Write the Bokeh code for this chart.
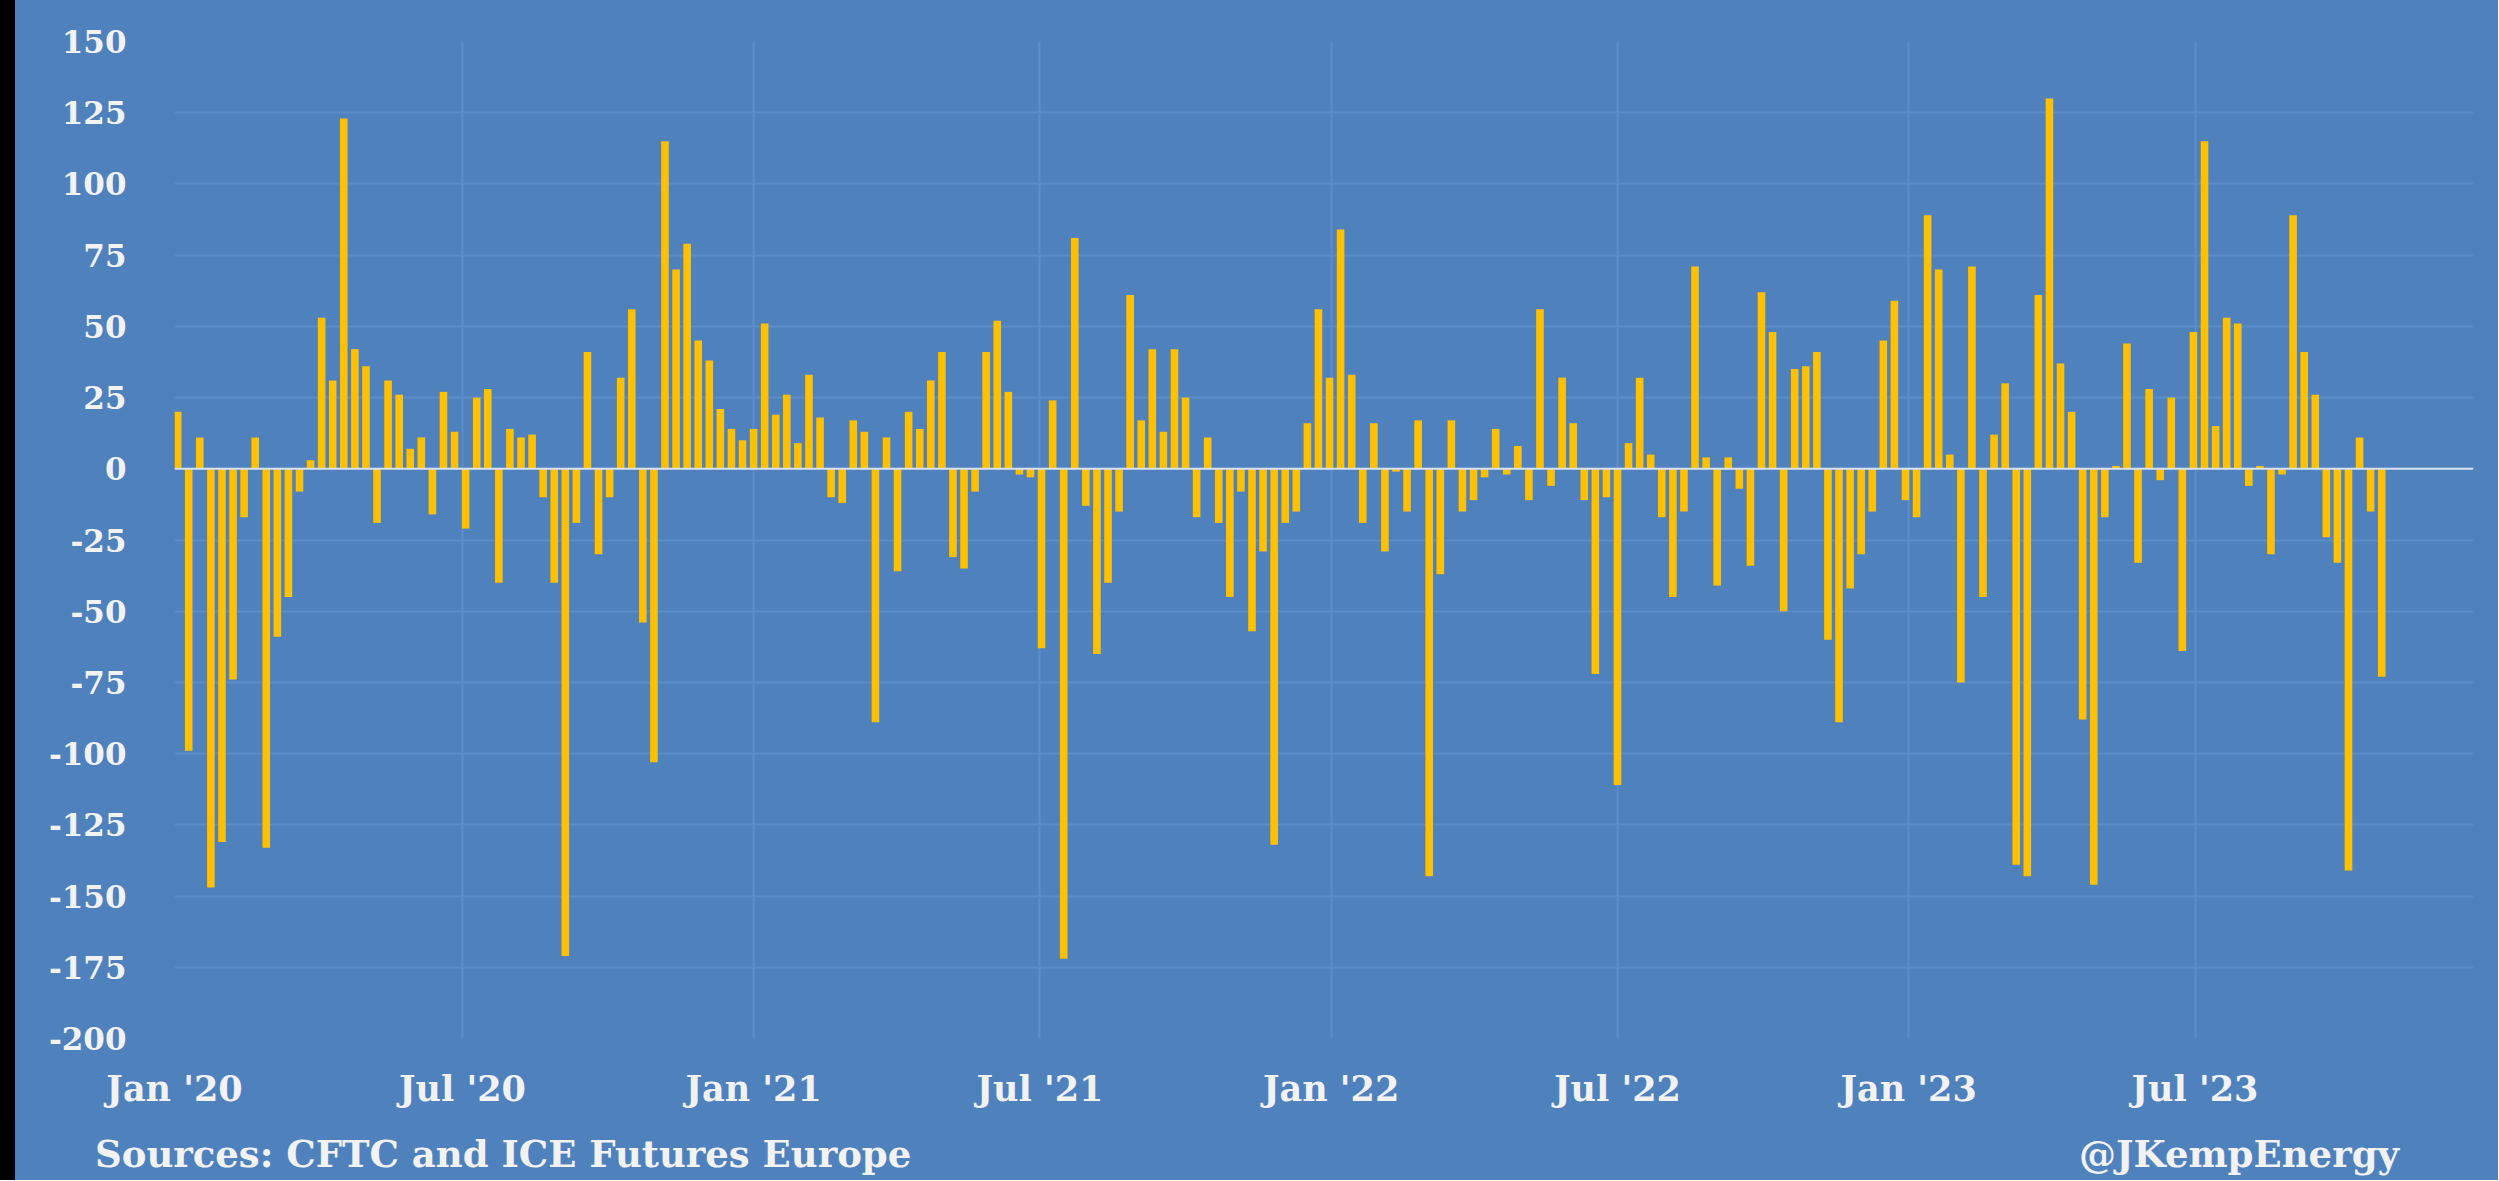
import pandas as pd
from bokeh.plotting import figure
from bokeh.layouts import row, column
from bokeh.models import FixedTicker, Span, Range1d, ColumnDataSource, Div
from bokeh.embed import file_html
from bokeh.resources import INLINE

# Weekly change (reference bars), first report week then every 7 days
START_DATE = "2020-01-03"
VALUES = [
    20, -99, 11, -147, -131, -74, -17, 11, -133, -59,
    -45, -8, 3, 53, 31, 123, 42, 36, -19, 31,
    26, 7, 11, -16, 27, 13, -21, 25, 28, -40,
    14, 11, 12, -10, -40, -171, -19, 41, -30, -10,
    32, 56, -54, -103, 115, 70, 79, 45, 38, 21,
    14, 10, 14, 51, 19, 26, 9, 33, 18, -10,
    -12, 17, 13, -89, 11, -36, 20, 14, 31, 41,
    -31, -35, -8, 41, 52, 27, -2, -3, -63, 24,
    -172, 81, -13, -65, -40, -15, 61, 17, 42, 13,
    42, 25, -17, 11, -19, -45, -8, -57, -29, -132,
    -19, -15, 16, 56, 32, 84, 33, -19, 16, -29,
    -1, -15, 17, -143, -37, 17, -15, -11, -3, 14,
    -2, 8, -11, 56, -6, 32, 16, -11, -72, -10,
    -111, 9, 32, 5, -17, -45, -15, 71, 4, -41,
    4, -7, -34, 62, 48, -50, 35, 36, 41, -60,
    -89, -42, -30, -15, 45, 59, -11, -17, 89, 70,
    5, -75, 71, -45, 12, 30, -139, -143, 61, 130,
    37, 20, -88, -146, -17, 1, 44, -33, 28, -4,
    25, -64, 48, 115, 15, 53, 51, -6, 1, -30,
    -2, 89, 41, 26, -24, -33, -141, 11, -15, -73,
]

TICK_DATES = ["2020-01-01", "2020-07-01", "2021-01-01", "2021-07-01",
              "2022-01-01", "2022-07-01", "2023-01-01", "2023-07-01"]
TICK_LABELS = ["Jan '20", "Jul '20", "Jan '21", "Jul '21",
               "Jan '22", "Jul '22", "Jan '23", "Jul '23"]
Y_TICKS = [-200, -175, -150, -125, -100, -75, -50, -25, 0, 25, 50, 75, 100, 125, 150]
Y_TICK_LABELS = ["-200", "-175", "-150", "-125", "-100", "-75", "-50", "-25",
                 "0", "25", "50", "75", "100", "125", "150"]

SOURCE_TEXT = "Sources: CFTC and ICE Futures Europe"
HANDLE_TEXT = "@JKempEnergy"

BG = "#4F81BD"
BAR = "#FFC000"
TXT = "#F2F2F2"
GRID = "#5C8DC9"
FONT = "DejaVu Serif"

LEFT_STRIP = 15
FIG_W = 2483
MAIN_H = 1120
FOOT_H = 60

dates = pd.date_range(START_DATE, periods=len(VALUES), freq="7D")
src = ColumnDataSource(dict(x=dates, top=VALUES))

p = figure(
    width=FIG_W, height=MAIN_H,
    x_axis_type="datetime",
    x_range=Range1d(pd.Timestamp("2020-01-01"), pd.Timestamp("2023-12-24")),
    y_range=Range1d(-200, 150),
    output_backend="svg", toolbar_location=None,
    min_border_left=159, min_border_right=25,
    min_border_top=41, min_border_bottom=82,
)
p.background_fill_color = BG
p.border_fill_color = BG
p.outline_line_color = None

bar_width_ms = 4.8 * 24 * 3600 * 1000
p.vbar(x="x", top="top", bottom=0, width=bar_width_ms, source=src,
       fill_color=BAR, line_color=None)

zero = Span(location=0, dimension="width", line_color="#D6E0F0", line_width=2)
p.add_layout(zero)

tick_ms = [float(pd.Timestamp(d).value // 10**6) for d in TICK_DATES]
p.xaxis.ticker = FixedTicker(ticks=tick_ms)
p.xaxis.major_label_overrides = {t: lab for t, lab in zip(tick_ms, TICK_LABELS)}
p.yaxis.ticker = FixedTicker(ticks=Y_TICKS)
p.yaxis.major_label_overrides = {t: lab for t, lab in zip(Y_TICKS, Y_TICK_LABELS)}

for ax in (p.xaxis, p.yaxis):
    ax.axis_line_color = None
    ax.major_tick_line_color = None
    ax.minor_tick_line_color = None
    ax.major_tick_out = 0
    ax.major_tick_in = 0
    ax.major_label_text_font = FONT
    ax.major_label_text_font_style = "bold"
    ax.major_label_text_color = TXT

p.yaxis.major_label_text_font_size = "31px"
p.yaxis.major_label_standoff = 48
p.xaxis.major_label_text_font_size = "35px"
p.xaxis.major_label_standoff = 29

p.xgrid.grid_line_color = GRID
p.xgrid.grid_line_width = 2
p.ygrid.grid_line_color = GRID
p.ygrid.grid_line_width = 2

# footer row with source note (left) and handle (right)
foot_html = (
    f'<div style="display:flex;justify-content:space-between;align-items:center;'
    f'box-sizing:border-box;width:{FIG_W}px;height:{FOOT_H}px;'
    f'padding:8px 99px 0px 80px;font-family:\'{FONT}\';font-weight:bold;'
    f'font-size:37px;line-height:1;color:{TXT};white-space:nowrap;">'
    f'<span>{SOURCE_TEXT}</span><span>{HANDLE_TEXT}</span></div>'
)
foot = Div(text=foot_html, width=FIG_W, height=FOOT_H, margin=0,
           styles={"background-color": BG})

strip = Div(text="", width=LEFT_STRIP, height=MAIN_H + FOOT_H, margin=0,
            styles={"background-color": "#000000"})

layout = row(strip, column(p, foot, spacing=0), spacing=0,
             styles={"background-color": BG})

open("out.html", "w").write(file_html(layout, INLINE))
